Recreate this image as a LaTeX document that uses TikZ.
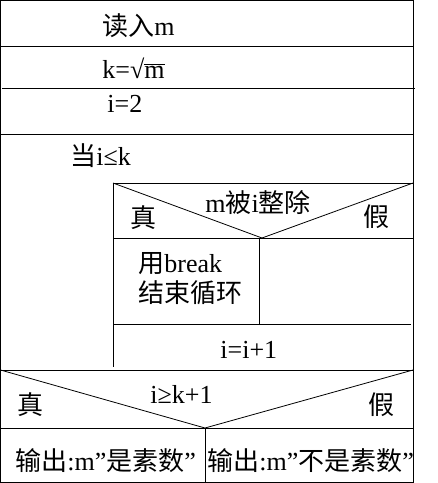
\documentclass[tikz,border=0pt]{standalone}
\usepackage{fontspec}
\setmainfont{Liberation Serif}
\newfontfamily\cjk{Noto Sans CJK SC}
\begin{document}
\begin{tikzpicture}[x=1pt,y=-1pt,line width=0.8pt,
  txt/.style={inner sep=0,anchor=base west,font=\fontsize{26}{30}\selectfont}]
\useasboundingbox (0,0) rectangle (438,483);
% frame and rows
\draw (0.5,0.5) rectangle (413,482);
\draw (0.5,46) -- (413,46);
\draw (2,88) -- (415,88);
\draw (0.5,134) -- (413,134);
% inner decision
\draw (113,183) -- (413,183);
\draw (113,183) -- (262,238) -- (413,183);
\draw (113,183) -- (113,367);
\draw (113,238) -- (413,238);
\draw (259,238) -- (259,324);
\draw (113,324) -- (411,324);
% bottom decision
\draw (0.5,370) -- (413,370);
\draw (0.5,370) -- (205,428) -- (413,370);
\draw (0.5,428) -- (413,428);
\draw (205,428) -- (205,482);
% texts
\node[txt] (read) at (102,35) {{\cjk 读入}m};
\node[txt] (k) at (102,78) {k=√$\overline{\mbox{m}}$};
\node[txt] (i2) at (107,112) {i=2};
\node[txt] (wh) at (70,165) {{\cjk 当}i≤k};
\node[txt] (cond) at (205,212) {m{\cjk 被}i{\cjk 整除}};
\node[txt] (t1) at (130,227) {\cjk 真};
\node[txt] (f1) at (363,226) {\cjk 假};
\node[txt] (brk) at (138,272) {{\cjk 用}break};
\node[txt] (end) at (138,302) {\cjk 结束循环};
\node[txt] (inc) at (220,358) {i=i+1};
\node[txt] (cond2) at (150,403) {i≥k+1};
\node[txt] (t2) at (17,414) {\cjk 真};
\node[txt] (f2) at (368,414) {\cjk 假};
\node[txt] (o1) at (15,470) {{\cjk 输出}:m”{\cjk 是素数}”};
\node[txt] (o2) at (207,470) {{\cjk 输出}:m”{\cjk 不是素数}”};
\end{tikzpicture}
\end{document}
